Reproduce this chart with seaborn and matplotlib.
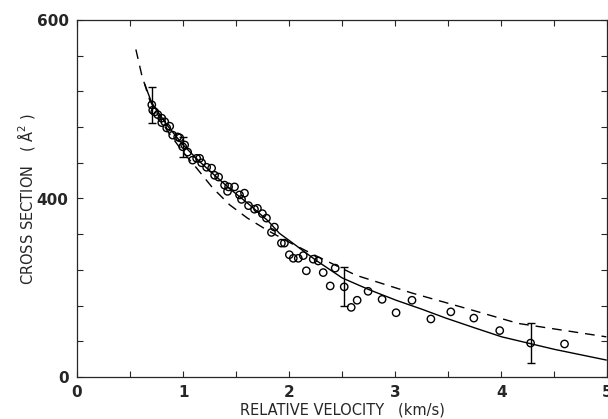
import matplotlib
matplotlib.use("Agg")
import matplotlib.pyplot as plt
import seaborn as sns
import pandas as pd
import numpy as np

# Measured data (open circles)
vel = [0.705, 0.714, 0.733, 0.761, 0.799, 0.827, 0.799, 0.874, 0.846, 0.902,
       0.949, 0.968, 1.015, 0.996, 1.043, 1.090, 1.128, 1.156, 1.175, 1.222,
       1.269, 1.297, 1.335, 1.391, 1.429, 1.485, 1.419, 1.532, 1.579, 1.551,
       1.617, 1.673, 1.701, 1.748, 1.786, 1.861, 1.833, 1.927, 1.955, 2.002,
       2.039, 2.086, 2.133, 2.162, 2.227, 2.274, 2.321, 2.387, 2.434, 2.519,
       2.585, 2.641, 2.744, 2.876, 3.008, 3.158, 3.336, 3.524, 3.741, 3.985,
       4.276, 4.596]
sigma = [505, 499, 497, 494, 490, 486, 485, 481, 479, 471,
         469, 468, 460, 458, 452, 443, 445, 445, 440, 435,
         434, 426, 424, 415, 413, 413, 408, 404, 406, 399,
         392, 388, 389, 383, 378, 368, 362, 350, 350, 337,
         333, 333, 336, 319, 332, 330, 317, 302, 322, 301,
         278, 286, 296, 287, 272, 286, 265, 273, 266, 252,
         238, 237]

# Error bars
err_vel = [0.705, 0.996, 2.519, 4.276]
err_sigma = [505, 458, 301, 238]
err_size = [20, 11, 22, 22]

# Theory curves
solid_v = [0.64, 0.667, 0.705, 0.85, 1.0, 1.15, 1.297, 1.45, 1.626, 1.8, 1.908, 2.0, 2.25, 2.5, 2.75, 3.008, 3.25, 3.477, 3.75, 4.004, 4.5, 4.99]
solid_s = [528, 519, 507, 482, 460, 442, 426, 410, 393, 375, 361, 353, 331, 311, 298, 286, 276, 266, 255, 245, 231, 219]
dash_v = [0.555, 0.611, 0.686, 0.85, 1.0, 1.128, 1.278, 1.438, 1.607, 1.786, 2.0, 2.25, 2.63, 3.16, 3.665, 4.16, 4.99]
dash_s = [567, 538, 510, 476, 452, 434, 412, 393, 378, 365, 351, 336, 314, 294, 277, 260, 245]

x_tick_labels = ["0", "", "1", "", "2", "", "3", "", "4", "", "5"]
y_tick_pos = [200, 400, 600]
y_tick_labels = ["0", "400", "600"]

sns.set_style("ticks")
plt.rcParams['font.family'] = ['DejaVu Sans']

fig = plt.figure(figsize=(6.08, 4.19), dpi=100)
ax = fig.add_axes([77/608, 1-377/419, 1-77/608 - 0.001, (377-20)/419])

pts = pd.DataFrame({"v": vel, "s": sigma})
sol = pd.DataFrame({"v": solid_v, "s": solid_s})
das = pd.DataFrame({"v": dash_v, "s": dash_s})

sns.lineplot(data=sol, x="v", y="s", ax=ax, color="black", lw=1.0, sort=True)
sns.lineplot(data=das, x="v", y="s", ax=ax, color="black", lw=1.0, sort=True,
             dashes=False, linestyle=(0, (7, 5)))
sns.scatterplot(data=pts, x="v", y="s", ax=ax, marker="o", s=28,
                facecolor="none", edgecolor="black", linewidth=1.0, zorder=3)
ax.errorbar(err_vel, err_sigma, yerr=err_size, fmt="none", ecolor="black",
            elinewidth=1.0, capsize=3, capthick=1.0)

ax.set_xlim(0, 5)
ax.set_ylim(200, 600)
ax.set_xticks(np.arange(0, 5.01, 0.5))
ax.set_xticklabels(x_tick_labels)
ax.set_yticks(np.arange(200, 601, 40))
ylabs = []
for t in np.arange(200, 601, 40):
    ylabs.append(y_tick_labels[y_tick_pos.index(t)] if t in y_tick_pos else "")
ax.set_yticklabels(ylabs)
ax.tick_params(direction="in", length=4, width=0.8, top=True, right=True,
               labelsize=11, pad=6)
for lab in ax.get_xticklabels() + ax.get_yticklabels():
    lab.set_fontweight("bold")
for sp in ax.spines.values():
    sp.set_linewidth(0.9)

ax.set_xlabel("RELATIVE VELOCITY   (km/s)", fontsize=10.5, labelpad=1.5)
ax.set_ylabel("CROSS SECTION   ( Å$^2$ )", fontsize=10.5, labelpad=0)

fig.savefig("out.png", dpi=100)
